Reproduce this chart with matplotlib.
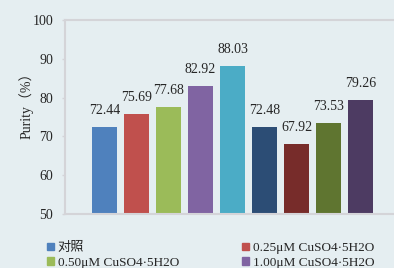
import matplotlib
matplotlib.use("Agg")
import matplotlib.pyplot as plt
from matplotlib.patches import Patch

plt.rcParams['font.family'] = ['Liberation Serif', 'Noto Sans CJK SC']

values = [72.44, 75.69, 77.68, 82.92, 88.03, 72.48, 67.92, 73.53, 79.26]
colors = ['#4F81BD', '#C0504D', '#9BBB59', '#8064A2', '#4BACC6',
          '#2C4D75', '#772C2A', '#5F7530', '#4D3B62']
legend_labels = ['对照', '0.25μM CuSO4·5H2O', '0.50μM CuSO4·5H2O', '1.00μM CuSO4·5H2O']
yticks = [50, 60, 70, 80, 90, 100]

bg = '#E5EEF1'
fig = plt.figure(figsize=(3.94, 2.68), dpi=100, facecolor=bg)
W, H = 394, 268
ax = fig.add_axes([65 / W, 1 - 214 / H, (400 - 65) / W, (214 - 20) / H])
ax.set_facecolor(bg)

x = list(range(len(values)))
ax.bar(x, values, width=0.78, color=colors, bottom=0)
for xi, v in zip(x, values):
    ax.text(xi, v + 2.6, f'{v:.2f}', ha='center', va='bottom', fontsize=10, color='#262626')

ax.set_ylim(50, 100)
ax.set_xlim(-1.23, 8 + 1.23)
ax.set_yticks(yticks)
ax.set_yticklabels([str(t) for t in yticks], fontsize=10, color='#262626')
ax.set_xticks([])
ax.tick_params(axis='y', length=2.2, width=1, color='#D4D4D8', pad=6.4)
ax.spines['right'].set_visible(False)
for s in ['left', 'bottom', 'top']:
    ax.spines[s].set_color('#D4D4D8')
    ax.spines[s].set_linewidth(1.5)
ax.set_ylabel('Purity（%）', fontsize=10, color='#262626')
ax.yaxis.set_label_coords(-0.095, 0.575)

handles = [Patch(color=c) for c in colors[:4]]
order = [0, 2, 1, 3]
leg = fig.legend([handles[i] for i in order], [legend_labels[i] for i in order],
                 ncol=2, loc='upper left', bbox_to_anchor=(47 / W, 1 - 242 / H),
                 frameon=False, fontsize=9.5, handlelength=0.5, handleheight=0.5,
                 handletextpad=0.3, columnspacing=4.8, labelspacing=0.2,
                 borderpad=0, borderaxespad=0)
for t in leg.get_texts():
    t.set_color('#262626')

fig.savefig('out.png', dpi=100, facecolor=bg)
